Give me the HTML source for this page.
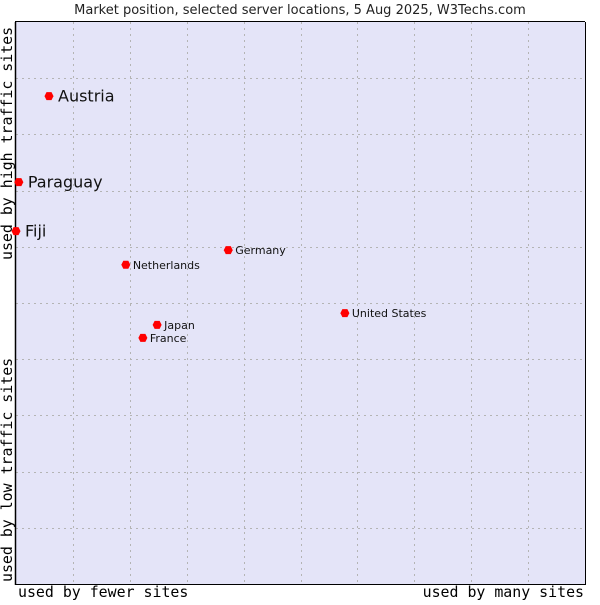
<!DOCTYPE html>
<html><head><meta charset="utf-8"><style>
body{margin:0;background:#fff;}
svg text{font-family:"DejaVu Sans","Liberation Sans",sans-serif;}
.mono{font-family:"DejaVu Sans Mono","Liberation Mono",monospace;font-size:14.9px;fill:#000;}
</style></head><body>
<svg id="chart" width="600" height="600" xmlns="http://www.w3.org/2000/svg">
<text x="300" y="14" text-anchor="middle" font-size="13" fill="#222">Market position, selected server locations, 5 Aug 2025, W3Techs.com</text>
<rect x="16" y="22" width="569" height="562" fill="#e4e4f8"/>
<g id="grid"></g>
<line x1="15.5" y1="22" x2="15.5" y2="585" stroke="#000" stroke-width="1.5"/>
<line x1="15" y1="21.5" x2="585" y2="21.5" stroke="#000"/>
<line x1="585.5" y1="22" x2="585.5" y2="585" stroke="#000"/>
<line x1="15" y1="584.5" x2="586" y2="584.5" stroke="#000"/>
<text class="mono" x="18" y="597">used by fewer sites</text>
<text class="mono" x="584" y="597" text-anchor="end">used by many sites</text>
<text class="mono" transform="translate(12,582) rotate(-90)">used by low traffic sites</text>
<text class="mono" transform="translate(12,260) rotate(-90)">used by high traffic sites</text>
<g id="points"></g>
</svg>
<script>
const countries=["Austria","Paraguay","Fiji","Germany","Netherlands","United States","Japan","France"];
const xValues=[5.8,0.5,0,37.3,19.3,57.8,24.8,22.3];
const yValues=[86.8,71.5,62.8,59.4,56.8,48.2,46.1,43.8];
const largeLabel=[true,true,true,false,false,false,false,false];
const L=16,R=585,T=22,B=584;
const xs=v=>L+v/100*(R-L);
const ys=v=>B-v/100*(B-T);
const NS="http://www.w3.org/2000/svg";
const grid=document.getElementById('grid');
for(let i=1;i<10;i++){
  const x=Math.round(xs(i*10))+0.5,y=Math.round(ys(i*10))+0.5;
  const lv=document.createElementNS(NS,'line');
  lv.setAttribute('x1',x);lv.setAttribute('x2',x);lv.setAttribute('y1',T);lv.setAttribute('y2',B);
  lv.setAttribute('stroke','#b4b4b4');lv.setAttribute('stroke-dasharray','2,4');
  
  
  grid.appendChild(lv);
  const lh=document.createElementNS(NS,'line');
  lh.setAttribute('y1',y);lh.setAttribute('y2',y);lh.setAttribute('x1',L);lh.setAttribute('x2',R);
  lh.setAttribute('stroke','#b4b4b4');lh.setAttribute('stroke-dasharray','2,4');
  
  
  grid.appendChild(lh);
}
const pts=document.getElementById('points');
countries.forEach((c,i)=>{
  const x=xs(xValues[i]),y=ys(yValues[i]);
  const d=document.createElementNS(NS,'path');
  d.setAttribute('d',`M${x-4.5},${y} L${x-2.5},${y-4} L${x+2.5},${y-4} L${x+4.5},${y} L${x+2.5},${y+4} L${x-2.5},${y+4} Z`);
  d.setAttribute('fill','#ff0000');
  
  
  pts.appendChild(d);
  const t=document.createElementNS(NS,'text');
  const big=largeLabel[i];
  t.setAttribute('x',x+(big?9:7));
  t.setAttribute('y',y+(big?5.5:4));
  t.setAttribute('font-size',big?16:11);
  t.setAttribute('fill','#111');
  t.textContent=c;
  
  
  pts.appendChild(t);
});
</script>
</body></html>
